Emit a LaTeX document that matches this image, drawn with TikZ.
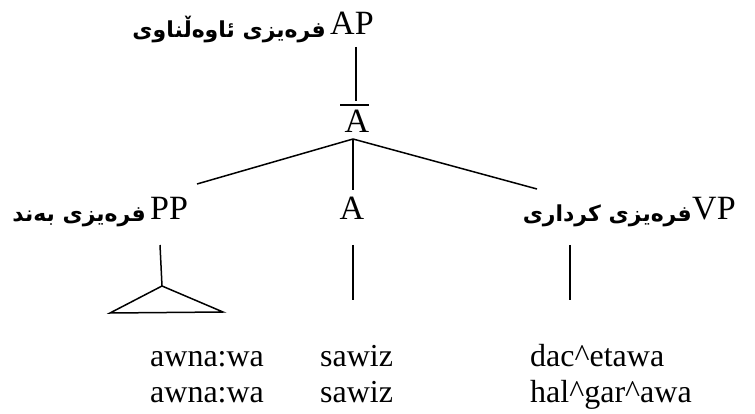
\documentclass[tikz,border=0pt]{standalone}
\usepackage{fontspec}
\setmainfont{Liberation Serif}
\newfontfamily\kurd[Script=Arabic]{DejaVu Sans}
\TeXXeTstate=1
\begin{document}
\begin{tikzpicture}[x=1pt,y=-1pt,
  lbl/.style={font=\fontsize{34}{34}\selectfont, inner sep=0, anchor=base},
  lblw/.style={lbl, anchor=base west},
  word/.style={font=\fontsize{32}{32}\selectfont, inner sep=0, anchor=base west},
  krd/.style={font=\kurd\bfseries\fontsize{22}{22}\selectfont, inner sep=0, anchor=base east},
  edge/.style={line width=1.5pt}]
\useasboundingbox (0,0) rectangle (755,414);
% labels
\node[lblw] (ap) at (330,35) {AP};
\node[krd] (apk) at (326,38) {\beginR فرەیزی ئاوەڵناوی\endR};
\node[lbl] (abar) at (357,133) {A};
\node[lblw] (pp) at (150,220) {PP};
\node[krd] (ppk) at (146,222) {\beginR فرەیزی بەند\endR};
\node[lbl] (a) at (352,220) {A};
\node[lblw] (vp) at (692,220) {VP};
\node[krd] (vpk) at (692,222) {\beginR فرەیزی کرداری\endR};
% words
\node[word] (w1) at (150,366) {awna:wa};
\node[word] (w2) at (320,366) {sawiz};
\node[word] (w3) at (530,366) {dac\textasciicircum etawa};
\node[word] (w4) at (150,402) {awna:wa};
\node[word] (w5) at (320,402) {sawiz};
\node[word] (w6) at (530,402) {hal\textasciicircum gar\textasciicircum awa};
% connector end points
\coordinate (apBot) at (356,47);
\coordinate (abTop) at (356,101);
\coordinate (barL) at (340,105);
\coordinate (barR) at (369,105);
\coordinate (apex) at (353,139);
\coordinate (ppEnd) at (197,184);
\coordinate (aEnd) at (353,190);
\coordinate (vpEnd) at (537,189);
\coordinate (ppTop) at (160,245);
\coordinate (triA) at (162,286);
\coordinate (triL) at (110,313);
\coordinate (triR) at (223,312);
\coordinate (aTop) at (353,245);
\coordinate (aBot) at (353,300);
\coordinate (vpTop) at (570,245);
\coordinate (vpBot) at (570,300);
% connectors
\draw[edge] (apBot) -- (abTop);
\draw[edge] (barL) -- (barR);
\draw[edge] (apex) -- (ppEnd);
\draw[edge] (apex) -- (aEnd);
\draw[edge] (apex) -- (vpEnd);
\draw[edge] (ppTop) -- (triA);
\draw[edge, line join=miter] (triA) -- (triL) -- (triR) -- cycle;
\draw[edge] (aTop) -- (aBot);
\draw[edge] (vpTop) -- (vpBot);
\end{tikzpicture}
\end{document}
